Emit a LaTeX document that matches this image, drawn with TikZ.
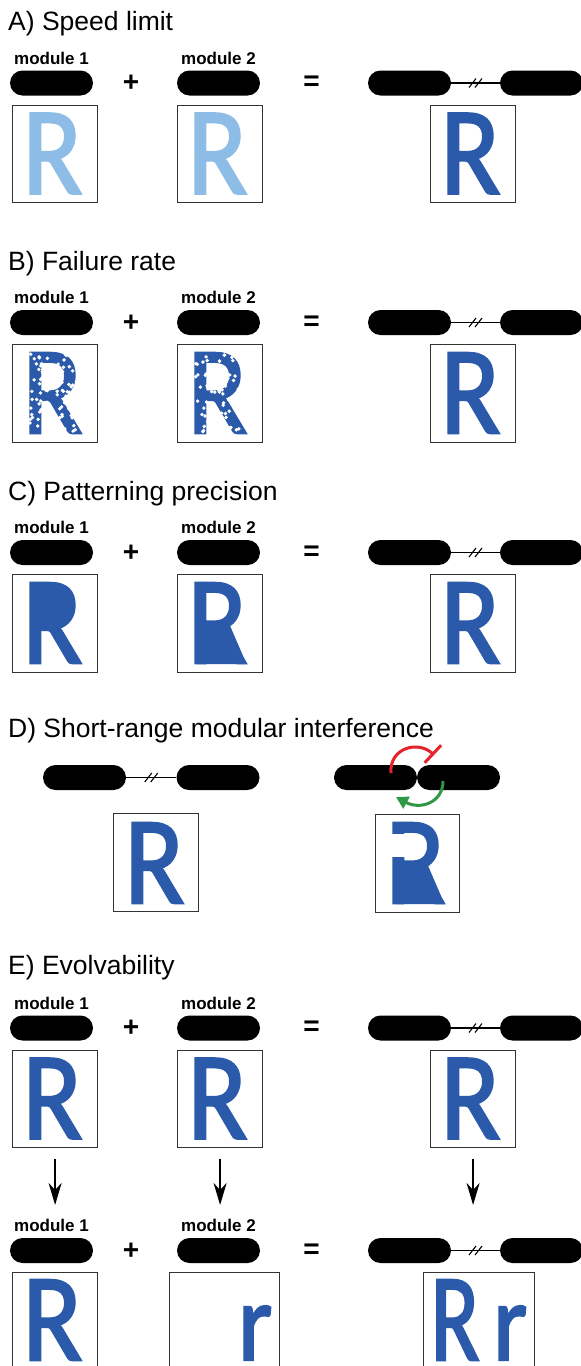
\documentclass[tikz,border=0pt]{standalone}
\usepackage{graphicx}
\usepackage{fontspec}
\setmainfont{Liberation Sans}
\newfontfamily\glyphfont{Carlito}[FakeBold=2]
\usetikzlibrary{arrows.meta,calc}

\definecolor{paleblue}{HTML}{8DBDE6}
\definecolor{deepblue}{HTML}{2A5AA9}
\definecolor{inhibred}{HTML}{E5232B}
\definecolor{actgreen}{HTML}{2E9845}
\definecolor{framegray}{HTML}{333333}

% letter shapes used inside the panels
\newcommand\bigR{\resizebox{!}{80pt}{\glyphfont R}}
\newcommand\smallr{\resizebox{!}{54pt}{\glyphfont r}}
\newcommand\lsbR{7.5}
\newcommand\lsbr{5}

% #1 name, #2 ink left, #3 ink top, #4 colour
\newcommand\placeR[4]{\node[glyph,text=#4] (#1) at ({#2-\lsbR},{#3+80}) {\bigR};}

% white specks eroding a letter: #1 seed, #2 ink left, #3 ink top
\newcommand\specks[3]{%
  \pgfmathsetseed{#1}%
  \foreach \k in {1,...,95}{%
    \pgfmathsetmacro\u{#2+53*rnd}%
    \pgfmathsetmacro\v{#3+80*rnd}%
    \fill[white] (\u,\v) circle (1.9pt);}}

% one row: two modules, plus, equals, joined construct
\newcommand\modulerow[2]{%
  \node[pill] (#1p1) at (51.5,#2) {};
  \node[pill] (#1p2) at (218.5,#2) {};
  \node[pill] (#1pL) at (409.5,#2) {};
  \node[pill] (#1pR) at (541.5,#2) {};
  \node[modlabel] (#1l1) at (51.5,#2-19) {module 1};
  \node[modlabel] (#1l2) at (218.5,#2-19) {module 2};
  \node[operator] (#1plus) at (131,#2+0.5) {+};
  \node[operator] (#1eq) at (311.5,#2+0.5) {=};
  \draw[link] (#1pL.east) -- (#1pR.west) pic[pos=.5]{brk};
}
\newcommand\panelrow[2]{%
  \node[panel] (#1b1) at (12,#2) {};
  \node[panel] (#1b2) at (177,#2) {};
  \node[panel] (#1b3) at (430,#2) {};
}

\begin{document}
\begin{tikzpicture}[x=1pt,y=-1pt,
  heading/.style={font=\fontsize{26.5}{30}\selectfont, anchor=base west, inner sep=0},
  modlabel/.style={font=\bfseries\fontsize{17}{20}\selectfont, anchor=base, inner sep=0},
  operator/.style={font=\bfseries\fontsize{28}{30}\selectfont, inner sep=0},
  pill/.style={fill=black, rounded corners=12.5pt, minimum width=83pt, minimum height=25pt, inner sep=0},
  panel/.style={draw=framegray, line width=1.2pt, minimum width=85pt, minimum height=97.5pt, inner sep=0, anchor=north west},
  link/.style={line width=1.3pt},
  glyph/.style={inner sep=0, anchor=base west, xscale=0.88},
  pics/brk/.style={code={
    \draw[line width=1.1pt] (-6.5,4.5) -- (0.5,-4.5);
    \draw[line width=1.1pt] (-0.5,4.5) -- (6.5,-4.5);}},
  down/.style={line width=2pt, -{Stealth[length=22pt,width=13pt,inset=7pt]}, shorten <=11pt, shorten >=14pt},
  inhib/.style={draw=inhibred, line width=3pt, line cap=butt, -{Bar[width=24pt]}},
  activ/.style={draw=actgreen, line width=3pt, -{Triangle[length=12pt,width=13pt]}}
]
\useasboundingbox (0,0) rectangle (581,1366);
\clip (0,0) rectangle (581,1366);

% ---------------- A) Speed limit
\node[heading] (tA) at (8,30) {A) Speed limit};
\modulerow{a}{83}
\panelrow{a}{104.5}
\placeR{aR1}{30}{113.5}{paleblue}
\placeR{aR2}{195}{113.5}{paleblue}
\placeR{aR3}{448}{113.5}{deepblue}

% ---------------- B) Failure rate
\node[heading] (tB) at (8,270) {B) Failure rate};
\modulerow{b}{322.5}
\panelrow{b}{344}
\placeR{bR1}{30}{353}{deepblue}
\specks{11}{30}{353}
\placeR{bR2}{195}{353}{deepblue}
\specks{29}{195}{353}
\placeR{bR3}{448}{353}{deepblue}

% ---------------- C) Patterning precision
\node[heading] (tC) at (8,500) {C) Patterning precision};
\modulerow{c}{552.5}
\panelrow{c}{574}
\placeR{cR1}{30}{583}{deepblue}
% counter filled in solid
\fill[deepblue] (38,590) rectangle (52,624);
\fill[deepblue, rounded corners=5pt] (44,591) -- (70,591) -- (70,617) -- (64,624) -- (44,624) -- cycle;
\placeR{cR2}{195}{583}{deepblue}
% gap under the bowl filled in solid
\fill[deepblue] (198,621) -- (228,621) -- (246.5,664) -- (198,664) -- cycle;
\placeR{cR3}{448}{583}{deepblue}

% ---------------- D) Short-range modular interference
\node[heading] (tD) at (8,737) {D) Short-range modular interference};
\node[pill] (dLL) at (84.5,777.5) {};
\node[pill] (dLR) at (218,777.5) {};
\draw[link] (dLL.east) -- (dLR.west) pic[pos=.5]{brk};
\node[pill] (dRL) at (375.5,777.5) {};
\node[pill] (dRR) at (458.5,777.5) {};
\node[panel] (dB1) at (113,813) {};
\node[panel, minimum width=84pt] (dB2) at (375,814) {};
\placeR{dR1}{132}{823}{deepblue}
\placeR{dR2}{393}{823}{deepblue}
\fill[deepblue] (396,861) -- (426,861) -- (444.5,904) -- (396,904) -- cycle;
\fill[white] (390,834) rectangle (409,857);
\coordinate (redS) at ($(dRL.center)+(15.5,-4.5)$);
\coordinate (redE) at ($(dRR.center)+(-24.5,-22.5)$);
\draw[inhib] (redS) .. controls +(-2,-25) and +(-16,-15) .. (redE);
\coordinate (grnS) at ($(dRR.center)+(-15.5,3.5)$);
\coordinate (grnE) at ($(dRL.center)+(20.5,19.5)$);
\draw[activ] (grnS) .. controls +(0,22) and +(24,13) .. (grnE);

% ---------------- E) Evolvability
\node[heading] (tE) at (8,974) {E) Evolvability};
\modulerow{e}{1028}
\panelrow{e}{1049.5}
\placeR{eR1}{30}{1058.5}{deepblue}
\placeR{eR2}{195}{1058.5}{deepblue}
\placeR{eR3}{448}{1058.5}{deepblue}

\modulerow{f}{1250.5}
\node[panel] (fb1) at (12,1272) {};
\node[panel, minimum width=110pt] (fb2) at (169,1272) {};
\node[panel, minimum width=111pt] (fb3) at (423,1272) {};
\placeR{fR1}{30}{1280}{deepblue}
\node[glyph, text=deepblue] (fr2) at (243-\lsbr,1360) {\smallr};
\node[glyph, text=deepblue, xscale=0.82] (fR3) at (438-\lsbR,1360) {\bigR};
\node[glyph, text=deepblue] (fr3) at (498-\lsbr,1360) {\smallr};

\draw[down] (eb1.south) -- (eb1.south |- fl1.north);
\draw[down] (eb2.south) -- (eb2.south |- fl2.north);
\draw[down] (eb3.south) -- (eb3.south |- fl1.north);
\end{tikzpicture}
\end{document}
